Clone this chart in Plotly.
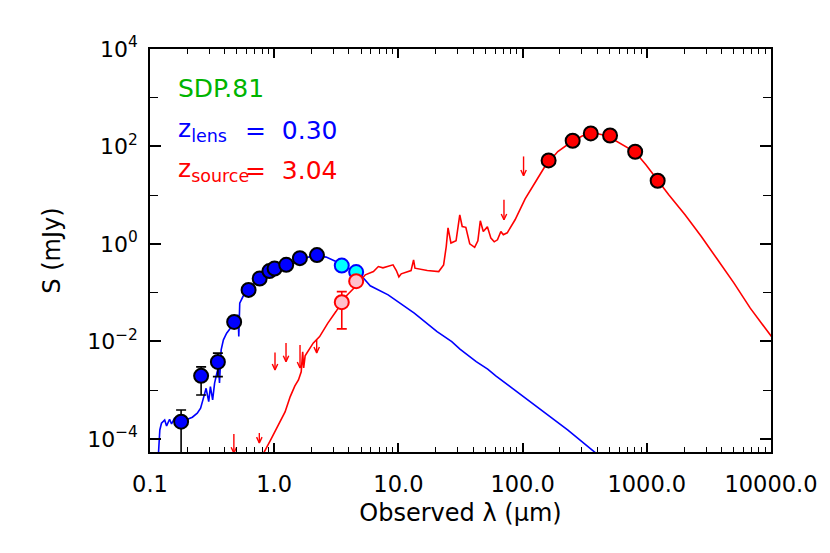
import plotly.graph_objects as go

# ---------------- data (wavelength in micron, flux density in mJy) ----------------
# lens galaxy photometry (blue points)
lens_wav = [0.178, 0.258, 0.352, 0.476, 0.622, 0.764, 0.915, 1.007, 1.25, 1.61, 2.21]
lens_flux = [2.25e-4, 1.96e-3, 3.79e-3, 0.0251, 0.114, 0.195, 0.277, 0.313, 0.372, 0.511, 0.589]
lens_err_up = [3.92e-4, 3.0e-3, 5.73e-3, None, None, None, None, None, None, None, None]
lens_err_lo = [1e-7, 7.96e-4, 1.89e-3, None, None, None, None, None, None, None, None]

# IRAC photometry: lens part (cyan) and source part (pink)
irac_wav = [3.50, 4.57]
irac_lens_flux = [0.360, 0.264]
irac_src_flux = [0.0638, 0.172]
irac_src_err_up = [0.105, None]
irac_src_err_lo = [0.0181, None]

# far-IR / sub-mm photometry of the source (red points)
fir_wav = [162, 253, 354, 506, 806, 1223]
fir_flux = [51.6, 131, 185, 168, 77.8, 19.8]

# upper limits for the source (red arrows): top value and arrow tip
ul_wav = [0.4735, 0.759, 1.015, 1.245, 1.614, 2.198, 70.8, 101.8]
ul_top = [1.26e-4, 1.32e-4, 5.89e-3, 9.31e-3, 8.47e-3, 0.01074, 8.05, 62.4]
ul_tip = [5.1e-5, 8.24e-5, 2.60e-3, 3.85e-3, 2.86e-3, 5.81e-3, 3.13, 25.0]

# lens galaxy SED model (blue curve)
lens_model_wav = [0.1162, 0.120, 0.1237, 0.1313, 0.136, 0.1438, 0.1491, 0.1574, 0.1662,
                  0.1777, 0.2003, 0.2194, 0.2402, 0.2555, 0.2713, 0.2829, 0.2971, 0.3064,
                  0.3194, 0.3312, 0.3453, 0.3561, 0.3627, 0.3740, 0.390, 0.414, 0.4404,
                  0.4675, 0.4875, 0.5120, 0.5186, 0.528, 0.5605, 0.6138, 0.6931, 0.7813,
                  0.9367, 1.123, 1.346, 1.718, 2.186, 2.620, 3.142, 3.767, 4.575, 5.101,
                  5.585, 5.93, 8.267, 13.42, 20.48, 26.89, 31.31, 42.32, 52.34, 60.83,
                  82.37, 133.7, 230.4, 385, 505]
lens_model_flux = [3.7e-5, 1.52e-4, 2.09e-4, 2.44e-4, 1.84e-4, 2.52e-4, 2.02e-4, 2.65e-4,
                   2.33e-4, 2.25e-4, 2.52e-4, 2.78e-4, 3.36e-4, 4.25e-4, 7.36e-4, 1.09e-3,
                   5.81e-4, 1.18e-3, 6.30e-4, 1.39e-3, 2.22e-3, 3.04e-3, 1.41e-3, 6.68e-3,
                   0.01074, 0.01472, 0.0181, 0.0218, 0.0276, 0.0350, 0.01256, 0.0608, 0.0832,
                   0.114, 0.1567, 0.2042, 0.271, 0.304, 0.372, 0.511, 0.578, 0.536, 0.4355,
                   0.3436, 0.2636, 0.2143, 0.169, 0.138, 0.0902, 0.0379, 0.01589, 9.91e-3,
                   6.92e-3, 3.85e-3, 2.69e-3, 1.96e-3, 1.094e-3, 4.25e-4, 1.52e-4, 5.21e-5,
                   2.91e-5]

# lensed source SED model (red curve)
src_model_wav = [0.7988, 0.8205, 0.9367, 1.020, 1.123, 1.223, 1.346, 1.467, 1.568, 1.650,
                 1.696, 1.727, 1.774, 2.059, 2.321, 2.703, 3.142, 3.767, 4.516, 5.415,
                 6.295, 6.894, 7.507, 8.267, 9.051, 9.627, 10.09, 10.54, 12.64, 13.25,
                 13.59, 17.08, 21.12, 23.12, 24.28, 25.09, 26.50, 29.12, 31.20, 32.64,
                 34.91, 37.54, 41.11, 43.64, 45.66, 48.23, 52.05, 55.56, 59.09, 62.74,
                 66.83, 69.95, 75.20, 86.98, 104.8, 125.8, 150.7, 192.1, 244.6, 304.1,
                 385, 478.6, 643.6, 805.8, 983.7, 1223, 1502, 2032, 2748, 3720, 5036,
                 6808, 10090]
src_model_flux = [3.69e-5, 5.06e-5, 9.48e-5, 1.45e-4, 2.25e-4, 3.56e-4, 7.36e-4, 1.22e-3,
                  1.62e-3, 2.37e-3, 6.08e-3, 2.86e-3, 5.04e-3, 9.18e-3, 0.01256, 0.02366,
                  0.0409, 0.0832, 0.1334, 0.2323, 0.271, 0.3436, 0.323, 0.3436, 0.372,
                  0.284, 0.211, 0.243, 0.284, 0.472, 0.318, 0.284, 0.271, 0.372, 0.885,
                  2.14, 1.04, 1.159, 3.96, 2.28, 2.19, 1.005, 0.851, 1.159, 2.98, 1.80,
                  2.24, 1.315, 1.104, 1.213, 1.80, 1.538, 1.69, 3.13, 8.43, 17.99, 38.3,
                  78.9, 121.9, 166, 186.7, 166, 108.4, 76.7, 42.1, 19.8, 10.19, 3.96,
                  1.419, 0.472, 0.1567, 0.0481, 0.01256]

x_tick_vals = [0.1, 1, 10, 100, 1000, 10000]
x_tick_text = ["0.1", "1.0", "10.0", "100.0", "1000.0", "10000.0"]
y_tick_vals = [1e-4, 1e-2, 1, 1e2, 1e4]
y_tick_text = ["10<sup>\u22124</sup>", "10<sup>\u22122</sup>", "10<sup>0</sup>",
               "10<sup>2</sup>", "10<sup>4</sup>"]

# ---------------- figure ----------------
FONT = "DejaVu Sans"
fig = go.Figure()

fig.add_trace(go.Scatter(x=lens_model_wav, y=lens_model_flux, mode="lines",
                         line=dict(color="#0000ff", width=1.6), hoverinfo="skip"))
fig.add_trace(go.Scatter(x=src_model_wav, y=src_model_flux, mode="lines",
                         line=dict(color="#ff0000", width=1.6), hoverinfo="skip"))

# upper-limit arrows (shaft + small V head)
ax, ay = [], []
hw = 10 ** 0.022   # half head width factor (style)
hh = 10 ** 0.12    # head height factor (style)
for w, t, b in zip(ul_wav, ul_top, ul_tip):
    ax += [w, w, None, w / hw, w, w * hw, None]
    ay += [t, b, None, b * hh, b, b * hh, None]
fig.add_trace(go.Scatter(x=ax, y=ay, mode="lines", line=dict(color="#ff0000", width=1.4),
                         hoverinfo="skip"))


def err_arrays(val, up, lo):
    plus = [(u - v) if u is not None else 0 for v, u in zip(val, up)]
    minus = [(v - l) if l is not None else 0 for v, l in zip(val, lo)]
    return plus, minus


p, m = err_arrays(lens_flux, lens_err_up, lens_err_lo)
fig.add_trace(go.Scatter(
    x=lens_wav, y=lens_flux, mode="markers",
    marker=dict(color="#0000ff", size=14, line=dict(color="black", width=2)),
    error_y=dict(type="data", symmetric=False, array=p, arrayminus=m,
                 color="black", thickness=1.6, width=5)))

fig.add_trace(go.Scatter(
    x=irac_wav, y=irac_lens_flux, mode="markers",
    marker=dict(color="#00ffff", size=14, line=dict(color="#0000ff", width=2))))

p, m = err_arrays(irac_src_flux, irac_src_err_up, irac_src_err_lo)
fig.add_trace(go.Scatter(
    x=irac_wav, y=irac_src_flux, mode="markers",
    marker=dict(color="#ffc0cb", size=14, line=dict(color="#ff0000", width=2)),
    error_y=dict(type="data", symmetric=False, array=p, arrayminus=m,
                 color="#ff0000", thickness=1.6, width=5)))

fig.add_trace(go.Scatter(
    x=fir_wav, y=fir_flux, mode="markers",
    marker=dict(color="#ff0000", size=14, line=dict(color="black", width=2))))

# annotations
ann = [
    dict(text="SDP.81", x=0.042, y=0.903, color="#00b400", size=25),
    dict(text="z<sub>lens</sub>", x=0.042, y=0.798, color="#0000ff", size=25),
    dict(text="=  0.30", x=0.149, y=0.798, color="#0000ff", size=25),
    dict(text="z<sub>source</sub>", x=0.042, y=0.699, color="#ff0000", size=25),
    dict(text="=  3.04", x=0.149, y=0.699, color="#ff0000", size=25),
]
for a in ann:
    fig.add_annotation(text=a["text"], x=a["x"], y=a["y"], xref="paper", yref="paper",
                       xanchor="left", yanchor="middle", showarrow=False,
                       font=dict(family=FONT, size=a["size"], color=a["color"]))

x_minor = [k * 10 ** n for n in range(-1, 4) for k in range(2, 10)]

fig.update_layout(
    width=830, height=553,
    margin=dict(l=150, r=46, t=49, b=101),
    paper_bgcolor="white", plot_bgcolor="white",
    showlegend=False,
    font=dict(family=FONT, size=22, color="black"),
    xaxis=dict(
        type="log", range=[-1, 4], tickmode="array", tickvals=x_tick_vals,
        ticktext=x_tick_text, ticks="inside", ticklen=9, tickwidth=1.5, tickcolor="black",
        showline=True, linecolor="black", linewidth=1.5, mirror="ticks", showgrid=False,
        zeroline=False, ticklabelstandoff=11, ticklabeloverflow="allow",
        tickfont=dict(size=22.5),
        minor=dict(tickmode="array", tickvals=x_minor, ticks="inside", ticklen=5,
                   tickwidth=1.2, tickcolor="black", showgrid=False),
        title=dict(text="Observed \u03bb (\u03bcm)", font=dict(size=24), standoff=8),
    ),
    yaxis=dict(
        type="log", range=[-4.27, 4.0], tickmode="array", tickvals=y_tick_vals,
        ticktext=y_tick_text, ticks="inside", ticklen=11, tickwidth=1.5, tickcolor="black",
        showline=True, linecolor="black", linewidth=1.5, mirror="ticks", showgrid=False,
        zeroline=False, ticklabelstandoff=6, tickfont=dict(size=22),
        minor=dict(tickmode="array", tickvals=[1e-3, 1e-1, 10, 1000], ticks="inside",
                   ticklen=8, tickwidth=1.2, tickcolor="black", showgrid=False),
        title=dict(text="S (mJy)", font=dict(size=24), standoff=20),
    ),
)

# remove the default page margin so the figure sits at the window origin
fig.write_html("out.html", config={"displayModeBar": False},
               post_script="document.body.style.margin='0';document.body.style.overflow='hidden';")
